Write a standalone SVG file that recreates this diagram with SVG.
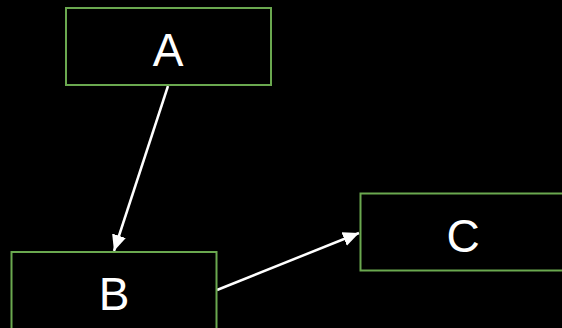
<svg xmlns="http://www.w3.org/2000/svg" width="562" height="328" viewBox="0 0 562 328">
<style>
.node rect{fill:#000;stroke:#6aa84f;stroke-width:2}
.node text{fill:#fff;font-family:"Liberation Sans",Arial,sans-serif;font-size:46px;text-anchor:middle}
.edge{stroke:#fff;stroke-width:2.5;fill:none;marker-end:url(#arrow)}
</style>
<defs>
<marker id="arrow" viewBox="0 0 10 10" refX="10" refY="5" markerWidth="16" markerHeight="16" markerUnits="userSpaceOnUse" orient="auto">
<path d="M0,0.5 L10,5 L0,9.5 z" fill="#fff"/>
</marker>
</defs>
<rect width="562" height="328" fill="#000"/>
<g id="connectors">
<path class="edge" d="M168,86 L114,251"/>
<path class="edge" d="M217,290 L359,233"/>
</g>
<g id="A" class="node"><rect x="66" y="8" width="205" height="77"/><text x="168" y="66">A</text></g>
<g id="B" class="node"><rect x="11.5" y="252" width="205" height="77"/><text x="114" y="309.5">B</text></g>
<g id="C" class="node"><rect x="360.5" y="193.5" width="205" height="77"/><text x="463" y="251.5">C</text></g>
</svg>
